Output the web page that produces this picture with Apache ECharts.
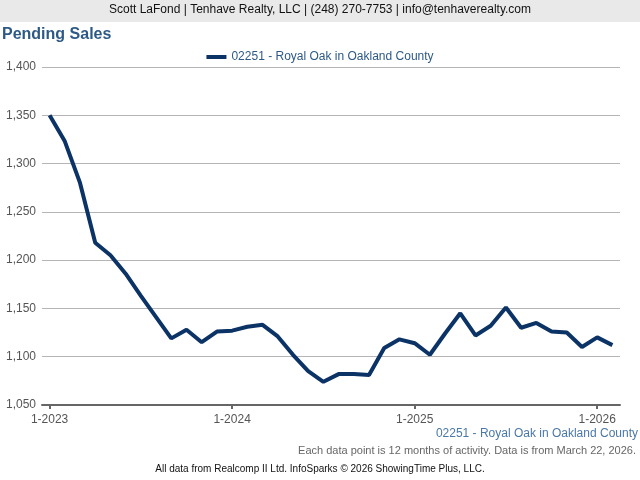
<!DOCTYPE html>
<html><head><meta charset="utf-8">
<script src="https://cdn.jsdelivr.net/npm/echarts@6/dist/echarts.min.js"></script>
<style>html,body{margin:0;padding:0;background:#fff}#c{width:640px;height:480px}</style>
</head><body><div id="c"></div>
<script>
var seriesName = '02251 - Royal Oak in Oakland County';
var months = ['1-2023','2-2023','3-2023','4-2023','5-2023','6-2023','7-2023','8-2023','9-2023','10-2023','11-2023','12-2023',
'1-2024','2-2024','3-2024','4-2024','5-2024','6-2024','7-2024','8-2024','9-2024','10-2024','11-2024','12-2024',
'1-2025','2-2025','3-2025','4-2025','5-2025','6-2025','7-2025','8-2025','9-2025','10-2025','11-2025','12-2025',
'1-2026','2-2026'];
var pendingSales = [1350,1323,1280,1218,1205,1186,1163,1141,1119,1128,1115,1126,
1127,1131,1133,1121,1102,1085,1074,1082,1082,1081,1109,1118,
1114,1102,1124,1145,1122,1132,1151,1130,1135,1126,1125,1110,
1120,1112];
var yTicks = {min:1050, max:1400, interval:50};

var chart = echarts.init(document.getElementById('c'));
var ff = '"Liberation Sans", Arial, sans-serif';
chart.setOption({
  animation:false,
  textStyle:{fontFamily:ff},
  graphic:[
    {type:'rect', shape:{x:0,y:0,width:640,height:22}, style:{fill:'#e9e9e9'}},
    {type:'text', left:'center', top:4, style:{text:'Scott LaFond | Tenhave Realty, LLC | (248) 270-7753 | info@tenhaverealty.com', font:'12px '+ff, fill:'#111'}},
    {type:'text', left:2, top:27, style:{text:'Pending Sales', font:'bold 16px '+ff, fill:'#2d5987'}},
    {type:'text', right:2, top:428, style:{text:seriesName, font:'12px '+ff, fill:'#4a78a8'}},
    {type:'text', right:4, top:445, style:{text:'Each data point is 12 months of activity. Data is from March 22, 2026.', font:'11px '+ff, fill:'#666'}},
    {type:'text', left:'center', top:464, style:{text:'All data from Realcomp II Ltd. InfoSparks \u00a9 2026 ShowingTime Plus, LLC.', font:'10px '+ff, fill:'#111'}}
  ],
  legend:{top:46, left:'center', itemWidth:20, itemHeight:4, icon:'rect', data:[seriesName],
    textStyle:{color:'#2d5987', fontSize:12, fontFamily:ff}},
  grid:{left:42, right:20, top:67, bottom:75, containLabel:false},
  xAxis:{type:'category', data:months, boundaryGap:true,
    axisLine:{show:true, lineStyle:{color:'#666', width:2}},
    axisTick:{show:true, alignWithLabel:true, interval:11, length:4, lineStyle:{color:'#666', width:2}},
    axisLabel:{interval:11, color:'#555', fontSize:12, margin:9, fontFamily:ff},
    splitLine:{show:false}},
  yAxis:{type:'value', min:yTicks.min, max:yTicks.max, interval:yTicks.interval,
    axisLine:{show:false}, axisTick:{show:false},
    axisLabel:{color:'#555', fontSize:12, margin:6, fontFamily:ff,
      formatter:function(v){return v.toLocaleString('en-US');}},
    splitLine:{lineStyle:{color:'#b5b5b5', width:1}}},
  series:[{name:seriesName, type:'line', data:pendingSales, symbol:'none',
    lineStyle:{color:'#0b3366', width:4}, itemStyle:{color:'#0b3366'}}]
});
</script></body></html>
